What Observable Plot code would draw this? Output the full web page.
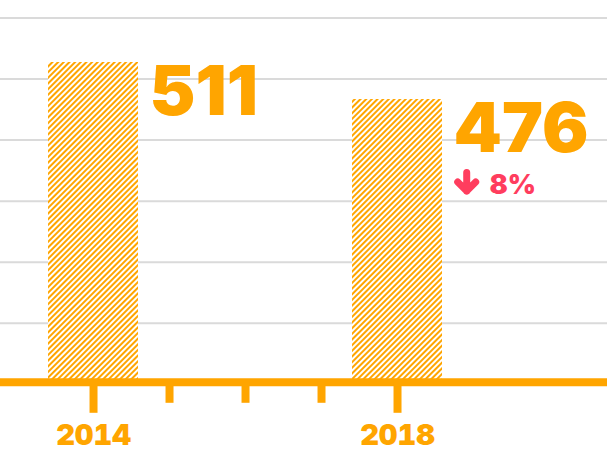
<!DOCTYPE html>
<html>
<head>
<meta charset="utf-8">
<script src="https://cdn.jsdelivr.net/npm/d3@7"></script>
<script src="https://cdn.jsdelivr.net/npm/@observablehq/plot@0.6"></script>
<style>
  html, body { margin: 0; padding: 0; background: #fff; }
  #chart svg { display: block; background: #fff; }
</style>
</head>
<body>
<div id="chart"></div>
<script>
// ---- data ----
const years = [2014, 2018];
const values = [511, 476];
const changeLabels = ["8%"];          // change shown next to the 2018 bar
const majorTicks = [2014, 2018];       // labelled years
const minorTicks = [2015, 2016, 2017]; // unlabelled years
const gridTicks = [264.3, 322, 379.8, 437.6, 495.3, 553.1];

// ---- scale settings ----
const yDomain = [208.5, 569.65];
const xDomain = [2012.776, 2020.763];
const barHalf = 0.592;

const orange = "#ffa500";
const red = "#ff3d5e";
const font = "Inter, Roboto, sans-serif";

const rows = years.map((year, i) => ({year, value: values[i]}));
const changeRows = [{...rows[1], label: changeLabels[0]}];

const defsMark = () => {
  const defs = d3.create("svg:defs");
  const p = defs.append("pattern")
    .attr("id", "stripes")
    .attr("patternUnits", "userSpaceOnUse")
    .attr("width", 4).attr("height", 4)
    .attr("patternTransform", "rotate(45)");
  p.append("rect").attr("width", 4).attr("height", 4).attr("fill", "#fff");
  p.append("rect").attr("width", 2).attr("height", 4).attr("fill", orange);
  return defs.node();
};

// down arrow next to the change label, placed through the scales
const arrowMark = (index, scales) => {
  const g = d3.create("svg:g").attr("aria-label", "arrow");
  for (const d of changeRows) {
    const cx = scales.x(d.year + barHalf) + 24.7;
    const cy = scales.y(d.value) + 83;
    g.append("path")
      .attr("transform", `translate(${cx},${cy})`)
      .attr("d", "M0,-9.5L0,9M-9,0L0,9L9,0")
      .attr("fill", "none")
      .attr("stroke", red)
      .attr("stroke-width", 7)
      .attr("stroke-linecap", "round")
      .attr("stroke-linejoin", "round");
  }
  return g.node();
};

const chart = Plot.plot({
  width: 607,
  height: 449,
  marginTop: 0,
  marginLeft: 0,
  marginRight: 0,
  marginBottom: 67.2,
  x: {type: "linear", domain: xDomain, label: null},
  y: {domain: yDomain, axis: null, label: null},
  marks: [
    defsMark,
    Plot.ruleY(gridTicks, {stroke: "#dadada", strokeWidth: 2}),
    Plot.rect(rows, {
      x1: d => d.year - barHalf,
      x2: d => d.year + barHalf,
      y1: yDomain[0],
      y2: d => d.value,
      fill: "url(#stripes)"
    }),
    Plot.ruleY([yDomain[0]], {stroke: orange, strokeWidth: 8}),
    Plot.axisX(minorTicks, {
      tickSize: 21, strokeWidth: 8, stroke: orange, color: orange,
      tickFormat: () => "", label: null
    }),
    Plot.axisX(majorTicks, {
      tickSize: 31, tickPadding: 11.6, strokeWidth: 8, stroke: orange, color: orange, fill: orange,
      tickFormat: d => String(d), fontSize: 29, fontWeight: 900, fontFamily: font, label: null
    }),
    Plot.text(rows, {
      x: d => d.year + barHalf,
      y: d => d.value,
      text: d => String(d.value),
      textAnchor: "start",
      lineAnchor: "top",
      dx: 11, dy: 3.5,
      fontSize: 69, fontWeight: 900, fontFamily: font,
      fill: orange
    }),
    arrowMark,
    Plot.text(changeRows, {
      x: d => d.year + barHalf,
      y: d => d.value,
      text: d => d.label,
      textAnchor: "start",
      lineAnchor: "top",
      dx: 47, dy: 75.3,
      fontSize: 27, fontWeight: 900, fontFamily: font,
      fill: red
    })
  ]
});
document.getElementById("chart").append(chart);
</script>
</body>
</html>
